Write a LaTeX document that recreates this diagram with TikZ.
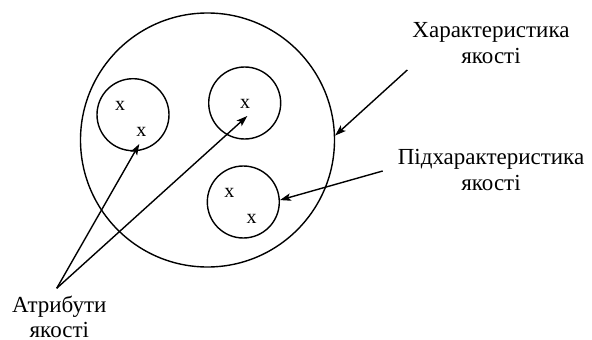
\documentclass[tikz,border=0pt]{standalone}
\usepackage{fontspec}
\setmainfont{Liberation Serif}
\newfontfamily\timesish{Liberation Serif}
\usetikzlibrary{arrows.meta}
\begin{document}
\begin{tikzpicture}[x=1pt,y=-1pt,
  ring/.style={circle,draw,line width=1.4pt,inner sep=0pt},
  xmark/.style={inner sep=0pt,font=\timesish\fontsize{20}{24}\selectfont},
  lbl/.style={align=center,inner sep=0pt,anchor=north,font=\timesish\fontsize{23}{25.5}\selectfont},
  arr/.style={-{Stealth[length=11pt,width=7.5pt,inset=2.5pt]},line width=1.4pt}]
\useasboundingbox (0,0) rectangle (592,340);
\node[ring,minimum size=254pt] (big) at (207.5,140) {};
\node[ring,minimum size=72pt] (c1) at (133,114.7) {};
\node[ring,minimum size=72pt] (c2) at (244.7,103) {};
\node[ring,minimum size=72pt] (c3) at (243.3,202) {};
\node[xmark] (x11) at (120,106.3) {x};
\node[xmark] (x12) at (141.3,132.3) {x};
\node[xmark] (x21) at (245,104) {x};
\node[xmark] (x31) at (229.3,193.3) {x};
\node[xmark] (x32) at (251.7,218.7) {x};
\node[lbl] (hq) at (491,22.7) {Характеристика\\якості};
\node[lbl] (sq) at (491,149.5) {Підхарактеристика\\якості};
\node[lbl,font=\timesish\fontsize{23}{24.5}\selectfont] (aq) at (59.3,296) {Атрибути\\якості};
\coordinate (s0) at (56.7,288.3);
\coordinate (e1) at (139.3,144);
\coordinate (e2) at (247.3,116);
\coordinate (s1) at (407.3,70);
\coordinate (s2) at (382.7,171);
\draw[arr] (s0) -- (e1);
\draw[arr] (s0) -- (e2);
\draw[arr] (s1) -- (big.2);
\draw[arr] (s2) -- (c3.3);
\end{tikzpicture}
\end{document}
